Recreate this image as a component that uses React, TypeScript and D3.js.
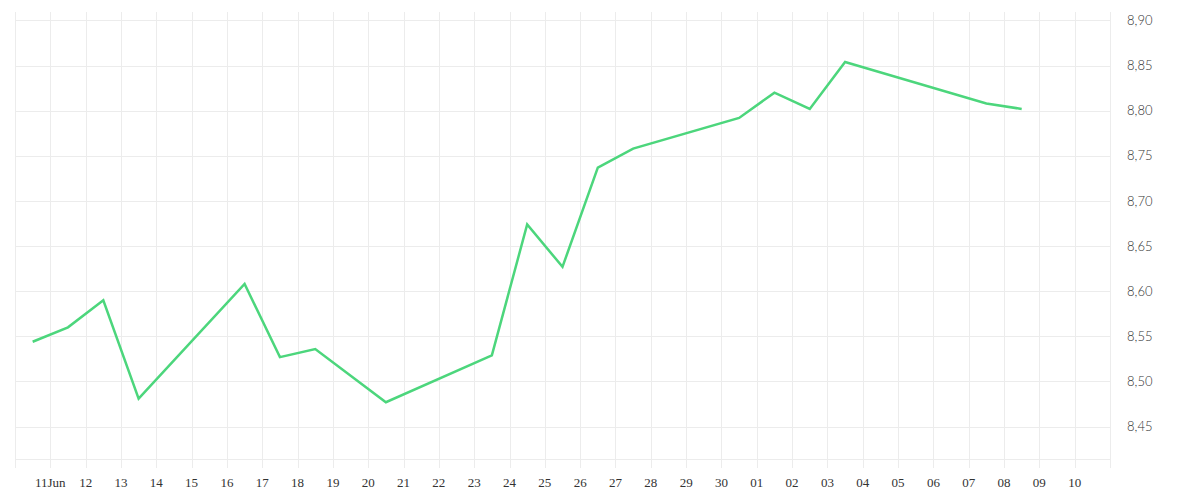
import { useEffect, useRef } from "react";
import * as d3 from "d3";

// observation dates (one point per trading day, plotted at midday)
const dates = [
  "2024-06-10", "2024-06-11", "2024-06-12", "2024-06-13", "2024-06-16",
  "2024-06-17", "2024-06-18", "2024-06-20", "2024-06-23", "2024-06-24",
  "2024-06-25", "2024-06-26", "2024-06-27", "2024-06-30", "2024-07-01",
  "2024-07-02", "2024-07-03", "2024-07-07", "2024-07-08",
];

const values = [
  8.544, 8.56, 8.59, 8.481, 8.608,
  8.527, 8.536, 8.477, 8.529, 8.674,
  8.627, 8.737, 8.758, 8.792, 8.82,
  8.802, 8.854, 8.808, 8.802,
];

const xTickLabels = [
  "11Jun", "12", "13", "14", "15", "16", "17", "18", "19", "20",
  "21", "22", "23", "24", "25", "26", "27", "28", "29", "30",
  "01", "02", "03", "04", "05", "06", "07", "08", "09", "10",
];

const yTicks = [8.45, 8.5, 8.55, 8.6, 8.65, 8.7, 8.75, 8.8, 8.85, 8.9];

export default function App() {
  const ref = useRef<HTMLDivElement>(null);

  useEffect(() => {
    if (!ref.current) return;
    const container = ref.current;
    container.innerHTML = "";

    const width = 1200;
    const height = 500;
    const plot = { left: 15, right: 1110, top: 12, bottom: 459 };

    const svg = d3
      .select(container)
      .append("svg")
      .attr("width", width)
      .attr("height", height)
      .style("display", "block");

    const parse = (s: string) => {
      const [yy, mm, dd] = s.split("-").map(Number);
      return new Date(yy, mm - 1, dd, 12);
    };

    const data = dates.map((d, i) => ({ date: parse(d), value: values[i] }));

    // -----------------------------
    // Scales
    // -----------------------------
    const x = d3
      .scaleTime()
      .domain([new Date(2024, 5, 10), new Date(2024, 6, 11)])
      .range([plot.left, plot.right]);

    const y = d3
      .scaleLinear()
      .domain([8.4141, 8.9094])
      .range([plot.bottom, plot.top]);

    const gridColor = "#ececec";

    // -----------------------------
    // Grid
    // -----------------------------
    const gridDays = d3.timeDay.range(
      new Date(2024, 5, 10),
      new Date(2024, 6, 12)
    );

    svg
      .append("g")
      .selectAll("line")
      .data(gridDays)
      .join("line")
      .attr("x1", (d) => Math.round(x(d)) + 0.5)
      .attr("x2", (d) => Math.round(x(d)) + 0.5)
      .attr("y1", plot.top)
      .attr("y2", plot.bottom + 9)
      .attr("stroke", gridColor)
      .attr("stroke-width", 1);

    svg
      .append("g")
      .selectAll("line")
      .data(yTicks)
      .join("line")
      .attr("x1", plot.left)
      .attr("x2", plot.right)
      .attr("y1", (d) => Math.round(y(d)) + 0.5)
      .attr("y2", (d) => Math.round(y(d)) + 0.5)
      .attr("stroke", gridColor);

    // bottom border
    svg
      .append("line")
      .attr("x1", plot.left)
      .attr("x2", plot.right)
      .attr("y1", plot.bottom + 0.5)
      .attr("y2", plot.bottom + 0.5)
      .attr("stroke", gridColor);

    // -----------------------------
    // Axis labels
    // -----------------------------
    const labelDays = d3.timeDay.range(
      new Date(2024, 5, 11),
      new Date(2024, 6, 11)
    );

    svg
      .append("g")
      .selectAll("text")
      .data(labelDays)
      .join("text")
      .attr("x", (d) => x(d))
      .attr("y", 487)
      .attr("text-anchor", "middle")
      .style("font-family", "'Liberation Serif', serif")
      .style("font-size", "13px")
      .style("fill", "#333")
      .text((_, i) => xTickLabels[i]);

    svg
      .append("g")
      .selectAll("text")
      .data(yTicks)
      .join("text")
      .attr("x", 1127)
      .attr("y", (d) => y(d))
      .attr("dy", "0.35em")
      .style("font-family", "Lato, sans-serif")
      .style("font-size", "13px")
      .style("font-weight", "300")
      .style("fill", "#333")
      .text((d) => d.toFixed(2).replace(".", ","));

    // -----------------------------
    // Line
    // -----------------------------
    const line = d3
      .line<{ date: Date; value: number }>()
      .x((d) => x(d.date))
      .y((d) => y(d.value));

    svg
      .append("path")
      .datum(data)
      .attr("d", line)
      .attr("fill", "none")
      .attr("stroke", "#4cd67c")
      .attr("stroke-width", 2.5)
      .attr("stroke-linejoin", "miter");
  }, []);

  return (
    <div
      ref={ref}
      style={{ position: "absolute", left: 0, top: 0, width: 1200, height: 500, background: "#fff" }}
    />
  );
}
